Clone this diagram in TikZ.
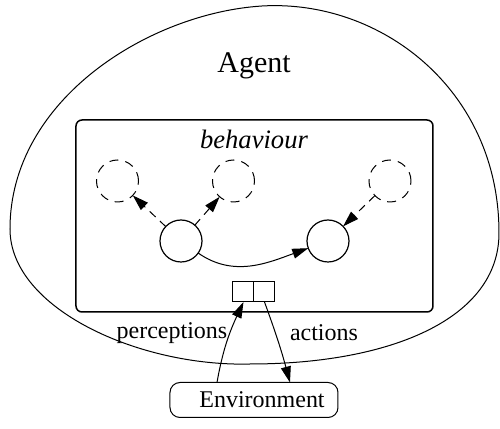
\documentclass[tikz,border=0pt]{standalone}
\usepackage{fontspec}
\setmainfont{Liberation Serif}
\usetikzlibrary{arrows.meta,positioning}

\begin{document}
\begin{tikzpicture}[x=0.5pt,y=0.5pt,inner sep=0,outer sep=0,
  every node/.style={font=\fontsize{12}{14}\selectfont},
  ghost/.style={draw,circle,minimum size=21pt,line width=0.5pt,dash pattern=on 4.5pt off 3.5pt},
  beh/.style={draw,circle,minimum size=21pt,line width=0.6pt},
  port/.style={draw,minimum width=10.5pt,minimum height=10pt,line width=0.5pt},
  tip/.style={line width=0.5pt,-{Triangle[length=8pt,width=5pt]}},
  hint/.style={tip,dash pattern=on 4pt off 3pt}]

   \useasboundingbox (0,0) rectangle (500,429);

   % The agent
   \draw[line width=0.5pt] (262,423) .. controls (150,416) and (10,330) .. (10,200)
     .. controls (10,120) and (140,62) .. (250,65)
     .. controls (390,65) and (499,110) .. (499,196)
     .. controls (499,340) and (380,430) .. cycle;
   \node (agent) at (254,363) {\fontsize{15}{18}\selectfont Agent};

   % Behaviour box
   \node[draw,rounded corners=3pt,line width=0.75pt,minimum width=178.5pt,minimum height=96pt] (box) at (254.5,213) {};
   \node (title) at (254,290) {\fontsize{13.3}{16}\selectfont\itshape behaviour};

   % States
   \node[ghost] (g1) at (117.5,248) {};
   \node[ghost] (g2) at (233.5,248) {};
   \node[ghost] (g3) at (390,248) {};
   \node[beh] (b1) at (181,188) {};
   \node[beh] (b2) at (328,188) {};

   \draw[hint] (b1) -- (g1);
   \draw[hint] (b1) -- (g2);
   \draw[hint] (g3) -- (b2);
   \draw[tip] (b1) to[out=-35,in=200] (b2);

   % Ports
   \node[port] (in) at (243.5,137) {};
   \node[port,right=0pt of in] (out) {};

   % Environment
   \node[draw,rounded corners=5pt,minimum width=84pt,minimum height=17.5pt,line width=0.5pt] (env) at (254,29) {\hspace{8pt}Environment};

   \draw[tip] ([xshift=-18.5pt]env.north) to[out=80,in=245] (in.south);
   \draw[tip] (out.south) to[out=-70,in=105] ([xshift=18pt]env.north);
   \node (perc) at (172,96) {perceptions};
   \node (act) at (324,96) {actions};

\end{tikzpicture}
\end{document}
